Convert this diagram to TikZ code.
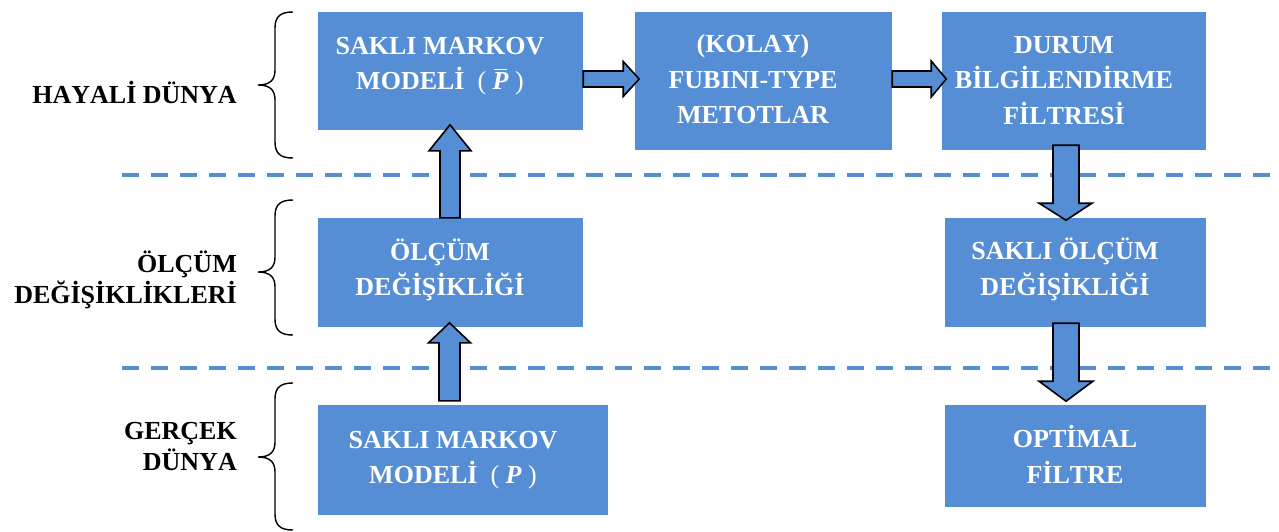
\documentclass[tikz,border=0pt]{standalone}
\usepackage{fontspec}
\setmainfont{Liberation Serif}[Kerning=Off]
\usetikzlibrary{calc}
\definecolor{boxblue}{HTML}{558ED5}
% bold italic P with a bar over it
\newcommand{\barP}{\ooalign{{\bfseries\itshape P}\cr\hidewidth\rule[0.74em]{0.52em}{1.4pt}\hspace{0.02em}\hidewidth\cr}}
\tikzset{
  box/.style={rectangle, fill=boxblue, draw=none, inner sep=0pt},
  boxtext/.style={text=white, font=\fontsize{26}{35.5}\selectfont\bfseries, align=center, inner sep=0pt},
  sidetext/.style={text=black, font=\fontsize{26}{31}\selectfont\bfseries, align=right, inner sep=0pt, anchor=east},
  barrow/.style={fill=boxblue, draw=black, line width=1.6pt, line join=miter},
  brace/.style={draw=black, line width=1.4pt},
  divider/.style={draw=boxblue, line width=4pt, dash pattern=on 17pt off 12pt}
}
\begin{document}
\begin{tikzpicture}[x=1pt, y=-1pt]
\useasboundingbox (0,0) rectangle (1279,531);

% dashed dividers between the three layers
\coordinate (d1l) at (122,175); \coordinate (d1r) at (1279,175);
\coordinate (d2l) at (122,368); \coordinate (d2r) at (1279,368);
\draw[divider] (d1l) -- (d1r);
\draw[divider] (d2l) -- (d2r);

% boxes
\node[box, minimum width=265pt, minimum height=118pt] (b1) at (450.5,71) {};
\node[box, minimum width=257pt, minimum height=138pt] (b2) at (763.5,81) {};
\node[box, minimum width=264pt, minimum height=138pt] (b3) at (1074,81) {};
\node[box, minimum width=265pt, minimum height=109pt] (o1) at (450.5,272.5) {};
\node[box, minimum width=261pt, minimum height=109pt] (s1) at (1075.5,272.5) {};
\node[box, minimum width=290pt, minimum height=110pt] (g1) at (463,460) {};
\node[box, minimum width=261pt, minimum height=102pt] (f1) at (1075.5,456) {};

% box texts
\node[boxtext] (b1t) at (440,66) {SAKLI MARKOV\\MODELİ\ \ {\mdseries(}\ \barP\ {\mdseries)}};
\node[boxtext] (b2t) at (753,79.5) {(KOLAY)\\FUBINI-TYPE\\METOTLAR};
\node[boxtext] (b3t) at (1064,80.5) {DURUM\\BİLGİLENDİRME\\FİLTRESİ};
\node[boxtext] (o1t) at (440,270) {ÖLÇÜM\\DEĞİŞİKLİĞİ};
\node[boxtext] (s1t) at (1065,269.5) {SAKLI ÖLÇÜM\\DEĞİŞİKLİĞİ};
\node[boxtext] (g1t) at (453,460) {SAKLI MARKOV\\MODELİ\ \ {\mdseries(}\ {\itshape P}\ {\mdseries)}};
\node[boxtext] (f1t) at (1075,454.5) {OPTİMAL\\FİLTRE};

% layer labels
\node[sidetext] (l1) at (237,92) {HAYALİ DÜNYA};
\node[sidetext] (l2) at (237,279.5) {ÖLÇÜM\\DEĞİŞİKLİKLERİ};
\node[sidetext] (l3) at (237,447) {GERÇEK\\DÜNYA};

% braces
\draw[brace] (293,12) .. controls (281,12) and (275,16) .. (275,28) -- (275,70)
  .. controls (275,80) and (270,85) .. (258,85)
  .. controls (270,85) and (275,90) .. (275,100) -- (275,142)
  .. controls (275,154) and (281,158) .. (293,158);
\draw[brace] (293,200) .. controls (281,200) and (275,204) .. (275,216) -- (275,257)
  .. controls (275,267) and (270,272) .. (258,272)
  .. controls (270,272) and (275,277) .. (275,287) -- (275,319)
  .. controls (275,331) and (281,335) .. (293,335);
\draw[brace] (293,383) .. controls (281,383) and (275,387) .. (275,399) -- (275,442)
  .. controls (275,452) and (270,457) .. (258,457)
  .. controls (270,457) and (275,462) .. (275,472) -- (275,514)
  .. controls (275,526) and (281,530) .. (293,530);

% block arrows
\draw[barrow] ($(b1.east)+(0,0)$) -- ($(b1.east)+(0,16)$) -- ($(b1.east)+(40,16)$)
  -- ($(b1.east)+(40,25.5)$) -- ($(b1.east)+(56,8)$) -- ($(b1.east)+(40,-9.5)$)
  -- ($(b1.east)+(40,0)$) -- cycle;
\draw[barrow] ($(b2.east)+(0,-10)$) -- ($(b2.east)+(0,6)$) -- ($(b2.east)+(39,6)$)
  -- ($(b2.east)+(39,16)$) -- ($(b2.east)+(54,-2)$) -- ($(b2.east)+(39,-20)$)
  -- ($(b2.east)+(39,-10)$) -- cycle;
\draw[barrow] ($(o1.north)+(-10.5,0)$) -- ($(o1.north)+(-10.5,-67)$) -- ($(o1.north)+(-21.5,-67)$)
  -- ($(o1.north)+(-0.5,-93)$) -- ($(o1.north)+(20.5,-67)$) -- ($(o1.north)+(9.5,-67)$)
  -- ($(o1.north)+(9.5,0)$) -- cycle;
\draw[barrow] ($(g1.north)+(-24,-4)$) -- ($(g1.north)+(-24,-62)$) -- ($(g1.north)+(-34.5,-62)$)
  -- ($(g1.north)+(-13.5,-82)$) -- ($(g1.north)+(7.5,-62)$) -- ($(g1.north)+(-3,-62)$)
  -- ($(g1.north)+(-3,-4)$) -- cycle;
\draw[barrow] ($(b3.south)+(-21,-5)$) -- ($(b3.south)+(-21,53)$) -- ($(b3.south)+(-35,53)$)
  -- ($(b3.south)+(-8,70)$) -- ($(b3.south)+(18,53)$) -- ($(b3.south)+(5,53)$)
  -- ($(b3.south)+(5,-5)$) -- cycle;
\draw[barrow] ($(s1.south)+(-22.5,-4)$) -- ($(s1.south)+(-22.5,54)$) -- ($(s1.south)+(-36.5,54)$)
  -- ($(s1.south)+(-9.5,74)$) -- ($(s1.south)+(17.5,54)$) -- ($(s1.south)+(3.5,54)$)
  -- ($(s1.south)+(3.5,-4)$) -- cycle;
\end{tikzpicture}
\end{document}
